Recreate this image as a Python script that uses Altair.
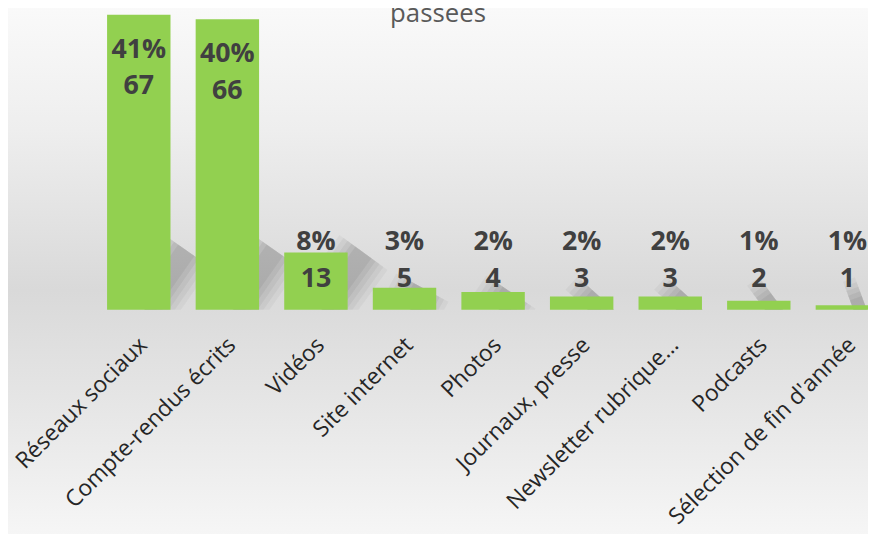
import altair as alt
import pandas as pd

categories = ["Réseaux sociaux", "Compte-rendus écrits", "Vidéos", "Site internet",
              "Photos", "Journaux, presse", "Newsletter rubrique…", "Podcasts",
              "Sélection de fin d'année"]
counts = [67, 66, 13, 5, 4, 3, 3, 2, 1]
percents = ["41%", "40%", "8%", "3%", "2%", "2%", "2%", "1%", "1%"]
title_text = "passées"

df = pd.DataFrame({"cat": categories, "v": counts, "pct": percents})

FONT = "Open Sans"
GREEN = "#92D050"
LABEL = "#404040"

xscale = alt.Scale(domain=categories, range=[100, 879.2], paddingInner=0.284, paddingOuter=0)
yscale = alt.Scale(domain=[0, 68])

X = alt.X("cat:N", scale=xscale, sort=categories,
          axis=alt.Axis(title=None, labelAngle=-45, labelFont=FONT, labelFontSize=23,
                        labelColor="#262626", domain=False, ticks=False, labelLimit=400,
                        labelPadding=24, labelOffset=-3, zindex=2))

bg = alt.Chart(alt.Data(values=[{}])).mark_rect(
    color=alt.Gradient(gradient="linear", x1=0, y1=0, x2=0, y2=1,
                       stops=[alt.GradientStop(offset=0, color="#fbfbfb"),
                              alt.GradientStop(offset=0.25, color="#eeeeee"),
                              alt.GradientStop(offset=0.54, color="#d9d9d9"),
                              alt.GradientStop(offset=0.78, color="#e8e8e8"),
                              alt.GradientStop(offset=1, color="#f7f7f7")])
).encode(x=alt.value(-20), x2=alt.value(900), y=alt.value(-20), y2=alt.value(540))

base = alt.Chart(df)

shadows = []
for filt, top, dx in [("datum.v >= 10", "min(datum.v, 13.5)", 48),
                      ("datum.v < 10", "datum.v", 18)]:
    for w, op in [(60, 0.035), (50, 0.04), (40, 0.045), (30, 0.05), (20, 0.05)]:
        shadows.append(
            base.transform_filter(filt).transform_calculate(top=top, zero="0").mark_rule(
                color="#000000", strokeWidth=w, opacity=op, clip=True,
                xOffset=6, x2Offset=dx, strokeCap="butt"
            ).encode(x=X, x2=alt.X2("cat:N"), y=alt.Y("zero:Q", scale=yscale, axis=None),
                     y2="top:Q")
        )

bars = base.mark_bar(color=GREEN).encode(
    x=X, y=alt.Y("v:Q", scale=yscale, axis=None))

lab = base.transform_calculate(
    ly="datum.v > 20 ? datum.v - 7.9 : 15.3")
pct_text = lab.mark_text(font=FONT, fontSize=27, fontWeight="bold", color=LABEL,
                         baseline="middle").encode(
    x=X, y=alt.Y("ly:Q", scale=yscale, axis=None), text="pct:N")
cnt_text = lab.mark_text(font=FONT, fontSize=27, fontWeight="bold", color=LABEL,
                         baseline="middle", dy=37).encode(
    x=X, y=alt.Y("ly:Q", scale=yscale, axis=None), text="v:Q")

title = alt.Chart(alt.Data(values=[{"t": title_text}])).mark_text(
    font=FONT, fontSize=26, color="#595959", baseline="alphabetic", align="center"
).encode(x=alt.value(434), y=alt.value(12), text="t:N")

chart = alt.layer(bg, *shadows, bars, pct_text, cnt_text, title).properties(
    width=868, height=302,
    autosize=alt.AutoSizeParams(type="none"),
    padding={"left": 0, "top": 0, "right": 0, "bottom": 224},
).configure_view(stroke=None).configure_axis(grid=False)

chart.save("out.html", embed_options={"renderer": "svg", "actions": False})
